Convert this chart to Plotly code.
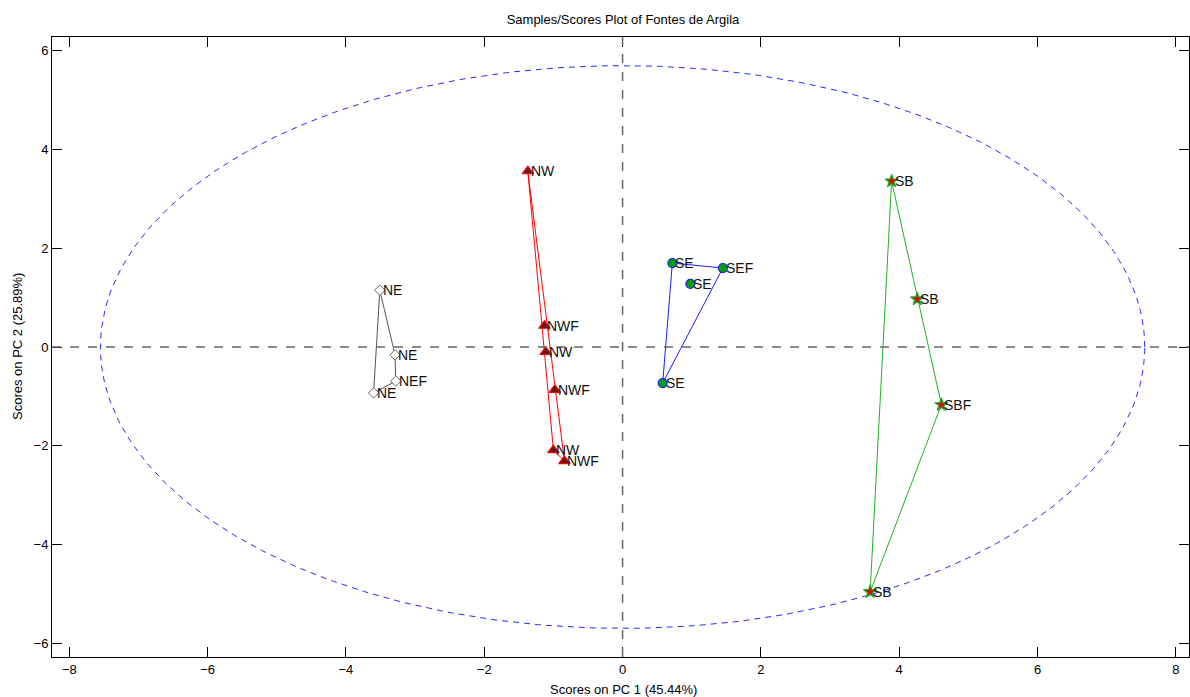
import numpy as np
import plotly.graph_objects as go

# ---- data ----
ne_x = [-3.51, -3.29, -3.28, -3.60]
ne_y = [1.15, -0.16, -0.69, -0.93]
ne_lab = ["NE", "NE", "NEF", "NE"]

nw_x = [-1.37, -1.13, -1.11, -0.98, -1.00, -0.84]
nw_y = [3.56, 0.43, -0.10, -0.87, -2.09, -2.31]
nw_lab = ["NW", "NWF", "NW", "NWF", "NW", "NWF"]

se_x = [0.72, 0.98, 1.45, 0.58]
se_y = [1.70, 1.28, 1.60, -0.73]
se_lab = ["SE", "SE", "SEF", "SE"]

sb_x = [3.89, 4.26, 4.61, 3.58]
sb_y = [3.36, 0.97, -1.17, -4.96]
sb_lab = ["SB", "SB", "SBF", "SB"]

ellipse_a = 7.55   # semi-axis along PC1
ellipse_b = 5.70   # semi-axis along PC2

x_ticks = [-8, -6, -4, -2, 0, 2, 4, 6, 8]
y_ticks = [-6, -4, -2, 0, 2, 4, 6]

title = "Samples/Scores Plot of Fontes de Argila"
x_title = "Scores on PC 1 (45.44%)"
y_title = "Scores on PC 2 (25.89%)"


def hull(xs, ys):
    pts = sorted(set(zip(xs, ys)))
    if len(pts) < 3:
        return pts

    def cross(o, a, b):
        return (a[0] - o[0]) * (b[1] - o[1]) - (a[1] - o[1]) * (b[0] - o[0])

    lower, upper = [], []
    for p in pts:
        while len(lower) >= 2 and cross(lower[-2], lower[-1], p) <= 0:
            lower.pop()
        lower.append(p)
    for p in reversed(pts):
        while len(upper) >= 2 and cross(upper[-2], upper[-1], p) <= 0:
            upper.pop()
        upper.append(p)
    h = lower[:-1] + upper[:-1]
    return h + [h[0]]


FONT = "Liberation Sans Narrow, Arial Narrow, Liberation Sans, Arial"
TF = dict(family=FONT, size=13, color="black")
LF = dict(family=FONT, size=14, color="#111111")

fig = go.Figure()

# ellipse
t = np.linspace(0, 2 * np.pi, 400)
fig.add_trace(go.Scatter(x=ellipse_a * np.cos(t), y=ellipse_b * np.sin(t), mode="lines",
                         line=dict(color="#2a2aff", width=1, dash="6px,5px"),
                         hoverinfo="skip", showlegend=False))

groups = [
    (ne_x, ne_y, ne_lab, "#555555", dict(symbol="diamond", size=8, color="white",
                                         line=dict(color="#666666", width=1))),
    (nw_x, nw_y, nw_lab, "#ff0000", dict(symbol="triangle-up", size=10, color="#5a1c1c",
                                         line=dict(color="#ff0000", width=1.2))),
    (se_x, se_y, se_lab, "#1a1aff", dict(symbol="circle", size=9, color="#00a000",
                                         line=dict(color="#2020ff", width=1.2))),
    (sb_x, sb_y, sb_lab, "#22b022", dict(symbol="star", size=10, color="#d01010",
                                         line=dict(color="#22b022", width=1.2))),
]

for xs, ys, labs, lc, mk in groups:
    h = hull(xs, ys)
    fig.add_trace(go.Scatter(x=[p[0] for p in h], y=[p[1] for p in h], mode="lines",
                             line=dict(color=lc, width=1), hoverinfo="skip", showlegend=False))

for xs, ys, labs, lc, mk in groups:
    fig.add_trace(go.Scatter(x=xs, y=ys, mode="markers", marker=mk,
                             showlegend=False, hovertext=labs))
    for x, y, lab in zip(xs, ys, labs):
        fig.add_annotation(x=x, y=y, text=lab, showarrow=False, xanchor="left",
                           yanchor="middle", xshift=1, font=LF)

# zero lines
fig.add_hline(y=0, line=dict(color="#666666", width=1.5, dash="dash"))
fig.add_vline(x=0, line=dict(color="#666666", width=1.5, dash="dash"))

axis_common = dict(showgrid=False, zeroline=False, ticks="inside", ticklen=10,
                   tickcolor="black", showline=True, linecolor="black", linewidth=1,
                   mirror="ticks", tickfont=TF, automargin=False)

fig.update_layout(
    width=1190, height=697,
    margin=dict(l=52, r=1, t=37, b=40, autoexpand=False),
    paper_bgcolor="white", plot_bgcolor="white",
    title=dict(text=title, x=623 / 1190, xanchor="center", y=1 - 19 / 697, yanchor="middle",
               font=TF),
    xaxis=dict(range=[-8.25, 8.19], tickvals=x_ticks, **axis_common),
    yaxis=dict(range=[-6.28, 6.28], tickvals=y_ticks, **axis_common),
)

fig.add_annotation(text=x_title, xref="paper", yref="paper", x=(623 - 52) / (1190 - 53),
                   y=0, yshift=-32, xanchor="center", yanchor="middle", showarrow=False, font=TF)
fig.add_annotation(text=y_title, xref="paper", yref="paper", x=0, xshift=-35,
                   y=0.5, xanchor="center", yanchor="middle", textangle=-90,
                   showarrow=False, font=TF)

fig.write_html("out.html", config={"displayModeBar": False},
               post_script="document.body.style.margin='0';document.body.style.overflow='hidden';")
